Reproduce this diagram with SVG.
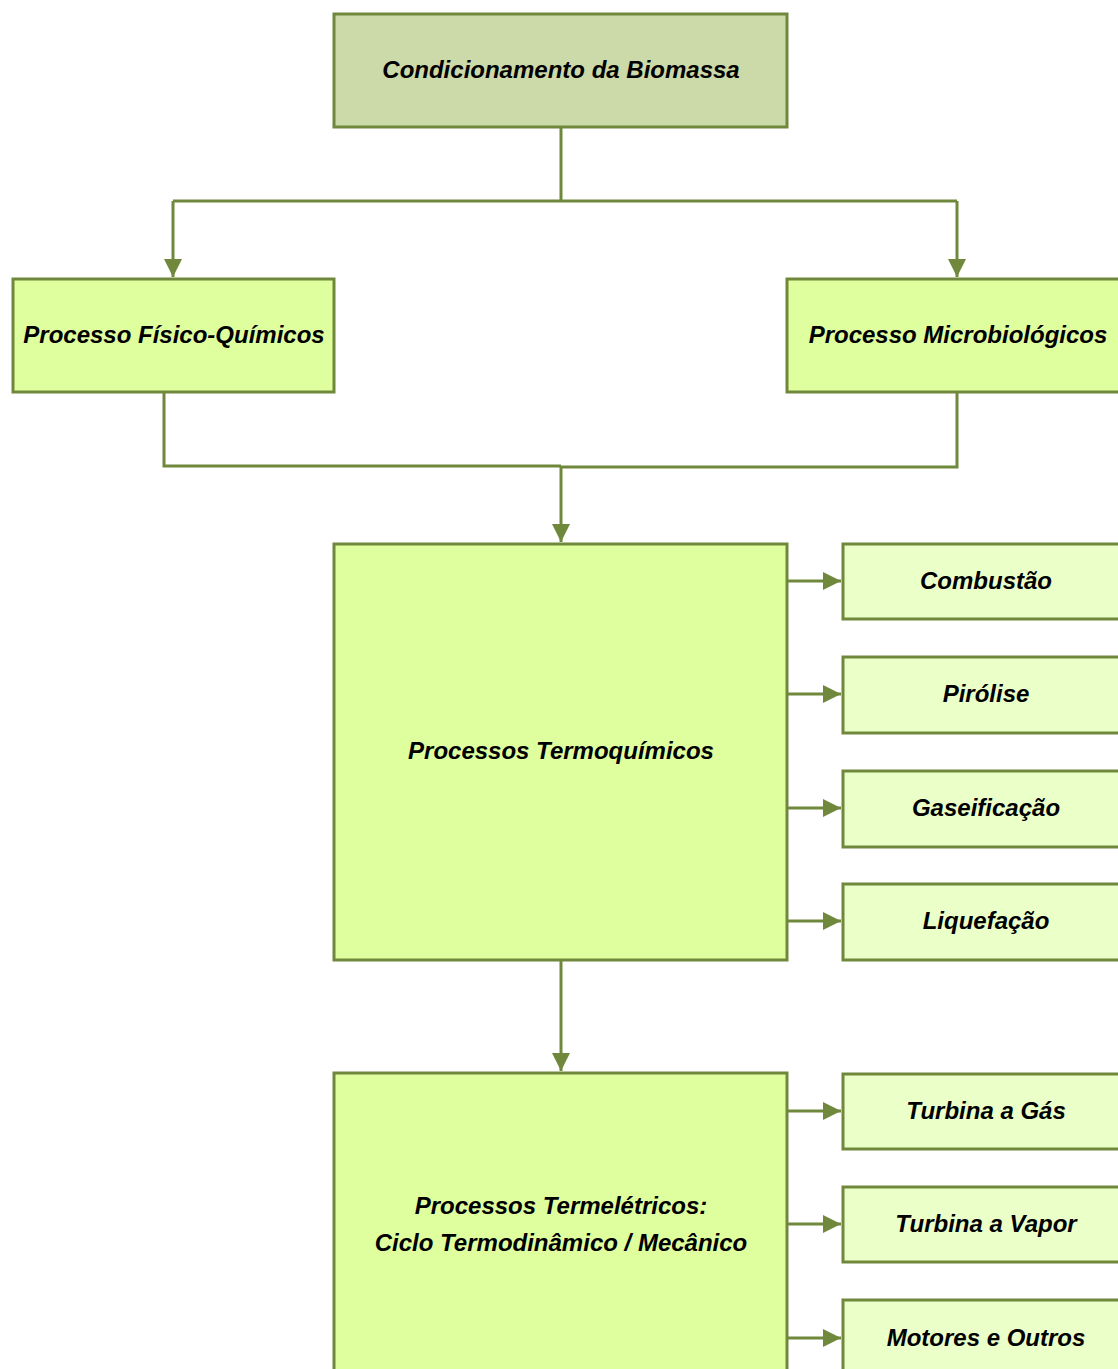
<svg xmlns="http://www.w3.org/2000/svg" width="1118" height="1369" viewBox="0 0 1118 1369">
<defs>
<style>
.box{stroke:#6f883b;stroke-width:3}
.top{fill:#ccd9a8}
.main{fill:#dfff9f}
.sub{fill:#ebffc8}
.t{font-family:"Liberation Sans",Arial,sans-serif;font-weight:bold;font-style:italic;font-size:24px;fill:#000;text-anchor:middle;dominant-baseline:central}
.c{fill:none;stroke:#6f883b;stroke-width:3}
</style>
<marker id="ah" markerUnits="userSpaceOnUse" markerWidth="20" markerHeight="20" viewBox="0 0 20 20" refX="18" refY="10" orient="auto">
<path d="M0,1 L18,10 L0,19 Z" fill="#6f883b"/>
</marker>
</defs>
<rect width="1118" height="1369" fill="#fff"/>
<g id="connectors">
<path class="c" d="M561,127 V201 M173,201 H957" />
<path class="c" d="M173,201 V277" marker-end="url(#ah)"/>
<path class="c" d="M957,201 V277" marker-end="url(#ah)"/>
<path class="c" d="M164,392 V466 H561 M957,392 V467 H561"/>
<path class="c" d="M561,466 V542" marker-end="url(#ah)"/>
<path class="c" d="M787,581 H841" marker-end="url(#ah)"/>
<path class="c" d="M787,694 H841" marker-end="url(#ah)"/>
<path class="c" d="M787,808 H841" marker-end="url(#ah)"/>
<path class="c" d="M787,921 H841" marker-end="url(#ah)"/>
<path class="c" d="M561,960 V1071" marker-end="url(#ah)"/>
<path class="c" d="M787,1111 H841" marker-end="url(#ah)"/>
<path class="c" d="M787,1224 H841" marker-end="url(#ah)"/>
<path class="c" d="M787,1338 H841" marker-end="url(#ah)"/>
</g>
<g id="n-condicionamento"><rect class="box top" x="334" y="14" width="453" height="113"/><text class="t" x="561" y="69">Condicionamento da Biomassa</text></g>
<g id="n-fisico"><rect class="box main" x="13" y="279" width="321" height="113"/><text class="t" x="174" y="334">Processo Físico-Químicos</text></g>
<g id="n-micro"><rect class="box main" x="787" y="279" width="342" height="113"/><text class="t" x="958" y="334">Processo Microbiológicos</text></g>
<g id="n-termoquimicos"><rect class="box main" x="334" y="544" width="453" height="416"/><text class="t" x="561" y="750">Processos Termoquímicos</text></g>
<g id="n-combustao"><rect class="box sub" x="843" y="544" width="286" height="75"/><text class="t" x="986" y="580">Combustão</text></g>
<g id="n-pirolise"><rect class="box sub" x="843" y="657" width="286" height="76"/><text class="t" x="986" y="693">Pirólise</text></g>
<g id="n-gaseificacao"><rect class="box sub" x="843" y="771" width="286" height="76"/><text class="t" x="986" y="807">Gaseificação</text></g>
<g id="n-liquefacao"><rect class="box sub" x="843" y="884" width="286" height="76"/><text class="t" x="986" y="920">Liquefação</text></g>
<g id="n-termeletricos"><rect class="box main" x="334" y="1073" width="453" height="310"/><text class="t" x="561" y="1205">Processos Termelétricos:</text><text class="t" x="561" y="1242">Ciclo Termodinâmico / Mecânico</text></g>
<g id="n-turbina-gas"><rect class="box sub" x="843" y="1074" width="286" height="75"/><text class="t" x="986" y="1110">Turbina a Gás</text></g>
<g id="n-turbina-vapor"><rect class="box sub" x="843" y="1187" width="286" height="75"/><text class="t" x="986" y="1223">Turbina a Vapor</text></g>
<g id="n-motores"><rect class="box sub" x="843" y="1300" width="286" height="90"/><text class="t" x="986" y="1337">Motores e Outros</text></g>
</svg>
